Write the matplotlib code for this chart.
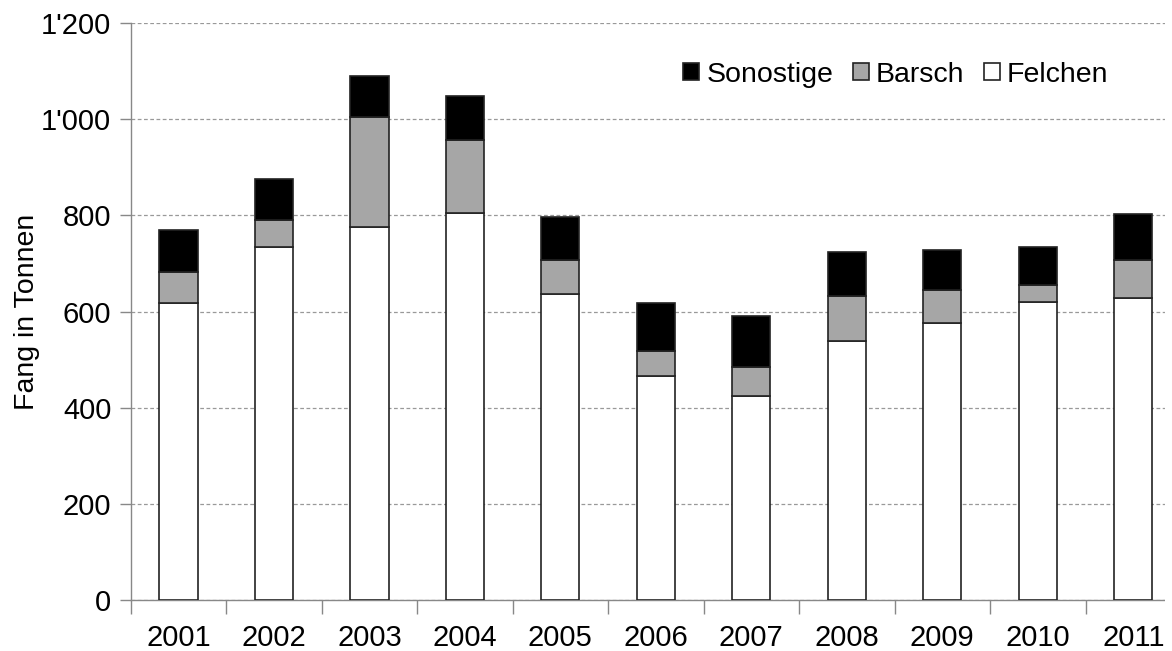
import matplotlib
matplotlib.use("Agg")
import matplotlib.pyplot as plt
from matplotlib.patches import Rectangle
from matplotlib.ticker import FuncFormatter, FixedLocator
import numpy as np

plt.rcParams['font.family'] = ['Liberation Sans', 'DejaVu Sans']

# data (tonnes)
years = ["2001", "2002", "2003", "2004", "2005", "2006", "2007", "2008", "2009", "2010", "2011"]
felchen = [618, 734, 775, 805, 637, 466, 425, 538, 577, 621, 628]
barsch = [64, 56, 229, 152, 70, 52, 59, 95, 67, 35, 79]
sonstige = [88, 86, 85, 92, 89, 100, 107, 92, 84, 78, 95]

W, H = 1172, 651
fig = plt.figure(figsize=(W / 100, H / 100), dpi=100)
left, right, top, bottom = 130.7, 1181, 23, 600.3
ax = fig.add_axes([left / W, 1 - bottom / H, (right - left) / W, (bottom - top) / H])

x = np.arange(len(years))
f = np.array(felchen)
b = np.array(barsch)
s = np.array(sonstige)
edge = "#222222"
bw = 0.4
ax.bar(x, f, width=bw, color="white", edgecolor=edge, linewidth=1.2, label="Felchen", zorder=3)
ax.bar(x, b, width=bw, bottom=f, color="#a6a6a6", edgecolor=edge, linewidth=1.2, label="Barsch", zorder=3)
ax.bar(x, s, width=bw, bottom=f + b, color="black", edgecolor=edge, linewidth=1.2, label="Sonostige", zorder=3)

ax.set_xlim(-0.5, len(years) - 0.5)
ax.set_ylim(0, 1200)
ax.set_yticks(range(0, 1201, 200))
ax.yaxis.set_major_formatter(FuncFormatter(lambda v, p: f"{int(v):,}".replace(",", "'")))
ax.set_xticks(x)
ax.set_xticklabels(years)
ax.xaxis.set_minor_locator(FixedLocator(np.arange(-0.5, len(years), 1.0)))
ax.tick_params(axis="x", which="major", length=0, pad=17, labelsize=21)
ax.tick_params(axis="x", which="minor", length=10, width=1, color="#888888")
ax.tick_params(axis="y", length=8, width=1, color="#888888", labelsize=21, pad=6)

ax.grid(axis="y", linestyle=(0, (3, 2)), color="#999999", linewidth=0.9)
ax.set_axisbelow(True)
for sp in ["top", "right"]:
    ax.spines[sp].set_visible(False)
for sp in ["left", "bottom"]:
    ax.spines[sp].set_color("#888888")
    ax.spines[sp].set_linewidth(1)

ax.set_ylabel("Fang in Tonnen", fontsize=20.5, labelpad=1)

handles, labels = ax.get_legend_handles_labels()
ax.legend(handles[::-1], labels[::-1], ncol=3, loc="center right",
          bbox_to_anchor=(0.931, 0.91), frameon=False, fontsize=20.5,
          handlelength=0.55, handleheight=0.55, handletextpad=0.25,
          columnspacing=0.7, borderaxespad=0, borderpad=0)

# the reference image is cut off on the right
fig.add_artist(Rectangle((1165 / W, 0), 1, 1, transform=fig.transFigure,
                         facecolor="white", edgecolor="none", zorder=10))

fig.savefig("out.png", dpi=100)
